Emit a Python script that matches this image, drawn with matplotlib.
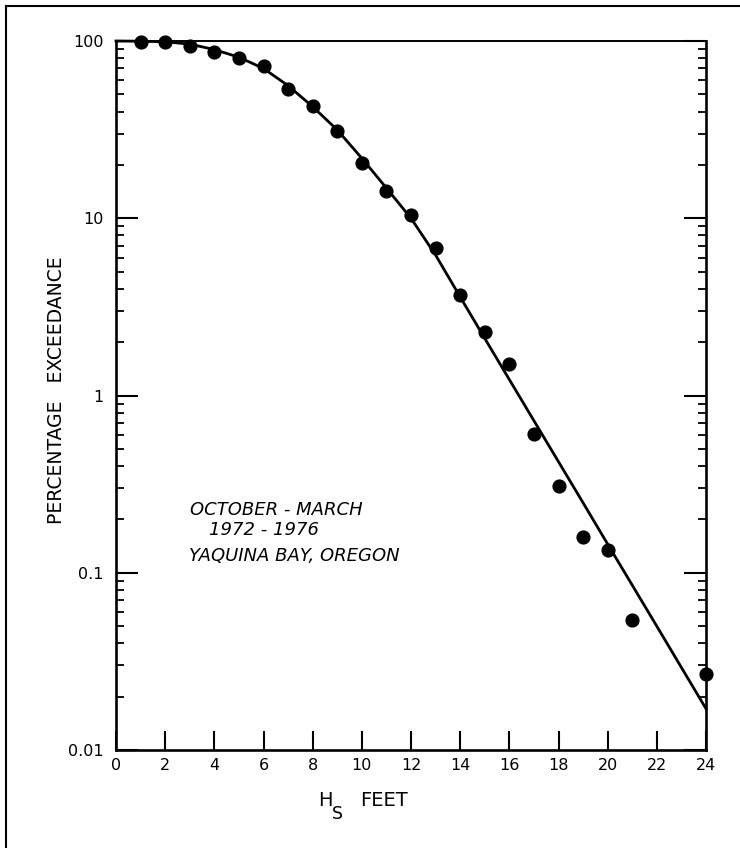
import matplotlib
matplotlib.use("Agg")
import matplotlib.pyplot as plt
from matplotlib.lines import Line2D
from matplotlib.ticker import FixedLocator, NullFormatter

# observed exceedance (dots)
hs_ft = [1, 2, 3, 4, 5, 6, 7, 8, 9, 10, 11, 12, 13, 14, 15, 16, 17, 18, 19, 20, 21, 24]
exceed_pct = [99.1, 98.3, 93.7, 86.3, 80.5, 72.3, 53.4, 43.0, 31.0, 20.6, 14.3, 10.4,
              6.8, 3.7, 2.27, 1.51, 0.61, 0.31, 0.16, 0.135, 0.054, 0.027]

# fitted curve
fit_hs = [0, 1, 2, 3, 4, 5, 6, 7, 8, 9, 10, 11, 12, 13, 14, 15, 16, 17, 18, 19, 20, 21, 22, 23, 24]
fit_pct = [100, 99.7, 99.0, 96.0, 89.5, 81.0, 70.0, 56.0, 42.6, 31.5, 21.8, 14.8, 10.0,
           6.2, 3.6, 2.1, 1.23, 0.721, 0.423, 0.248, 0.145, 0.0851, 0.0499, 0.0292, 0.0171]

x_ticks = [0, 2, 4, 6, 8, 10, 12, 14, 16, 18, 20, 22, 24]
y_ticks = [0.01, 0.1, 1, 10, 100]
y_labels = ["0.01", "0.1", "1", "10", "100"]
note_lines = ["OCTOBER - MARCH", "1972 - 1976", "YAQUINA BAY, OREGON"]

plt.rcParams["font.family"] = "DejaVu Sans"

fig = plt.figure(figsize=(7.4, 8.48), dpi=100)
ax = fig.add_axes([116 / 740, 1 - 750 / 848, 590 / 740, 709 / 848])

ax.plot(fit_hs, fit_pct, "-", color="black", linewidth=2.0, clip_on=False)
ax.plot(hs_ft, exceed_pct, "o", color="black", markersize=9.2, clip_on=False)

ax.set_yscale("log")
ax.set_xlim(0, 24)
ax.set_ylim(0.01, 100)

ax.xaxis.set_major_locator(FixedLocator(x_ticks))
ax.set_xticklabels([str(v) for v in x_ticks])
ax.yaxis.set_major_locator(FixedLocator(y_ticks))
ax.set_yticklabels(y_labels)
minor = [m * 10.0 ** e for e in range(-2, 2) for m in range(2, 10)]
ax.yaxis.set_minor_locator(FixedLocator(minor))
ax.yaxis.set_minor_formatter(NullFormatter())

ax.tick_params(axis="x", which="major", direction="in", length=14, width=1.5,
               labelsize=11.5, pad=6, top=False)
ax.tick_params(axis="x", which="minor", bottom=False, top=False)
ax.tick_params(axis="y", which="major", direction="in", length=16, width=1.5,
               labelsize=11.5, pad=9, left=True, right=True)
ax.tick_params(axis="y", which="minor", direction="in", length=6, width=1.3,
               left=True, right=True)

for side in ["left", "bottom", "right"]:
    ax.spines[side].set_linewidth(1.9)
ax.spines["top"].set_linewidth(1.4)

# x label: H with a full-size, dropped S, then FEET
fig.text(318 / 740, 1 - 800 / 848, "H", fontsize=14, ha="left", va="center")
fig.text(332 / 740, 1 - 814 / 848, "S", fontsize=12.5, ha="left", va="center")
fig.text(360 / 740, 1 - 801 / 848, "FEET", fontsize=14, ha="left", va="center")

ax.set_ylabel("PERCENTAGE   EXCEEDANCE", fontsize=13.5)
ax.yaxis.set_label_coords(-0.085, 0.508)

ax.text(3.0, 0.226, note_lines[0], style="italic", fontsize=13, ha="left", va="center")
ax.text(3.8, 0.175, note_lines[1], style="italic", fontsize=13, ha="left", va="center")
ax.text(2.95, 0.124, note_lines[2], style="italic", fontsize=13, ha="left", va="center")

# page border from the scan
fig.add_artist(Line2D([6 / 740, 6 / 740], [0, 1 - 6 / 848], transform=fig.transFigure,
                      color="black", linewidth=1.5))
fig.add_artist(Line2D([6 / 740, 1], [1 - 6 / 848, 1 - 6 / 848], transform=fig.transFigure,
                      color="black", linewidth=1.5))

fig.savefig("out.png", dpi=100, facecolor="white")
